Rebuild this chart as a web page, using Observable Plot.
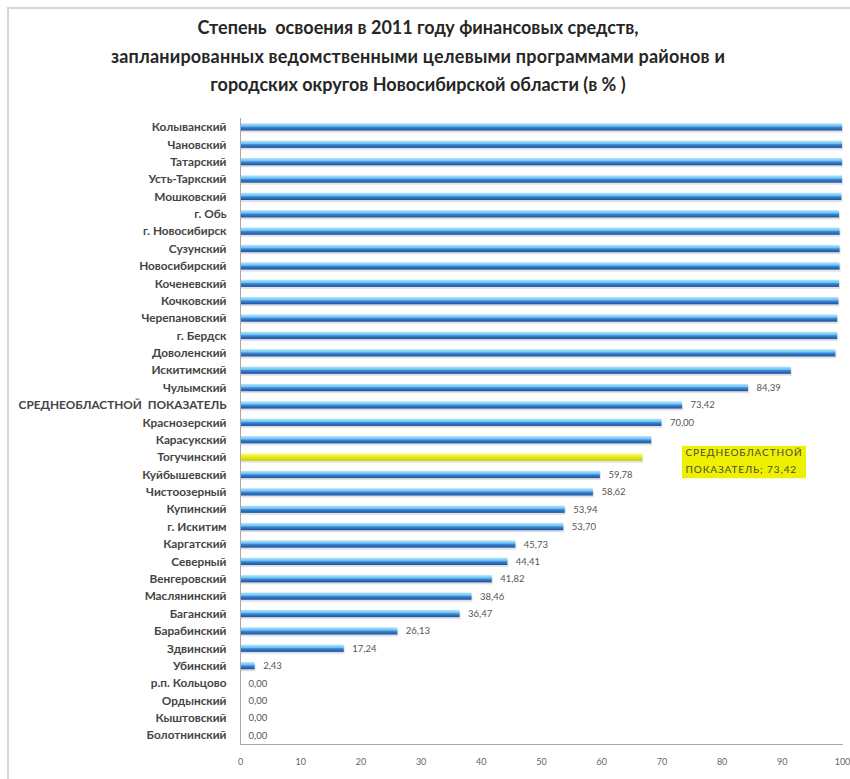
<!DOCTYPE html>
<html><head><meta charset="utf-8">
<script src="https://cdn.jsdelivr.net/npm/d3@7"></script>
<script src="https://cdn.jsdelivr.net/npm/@observablehq/plot@0.6"></script>
<style>
body{margin:0;background:#fff;width:850px;height:779px;overflow:hidden;position:relative;font-family:Lato,sans-serif}
#frame{position:absolute;left:7px;top:7px;width:900px;height:800px;border-top:2px solid #d6d6d6;border-left:2px solid #d6d6d6}
#title{position:absolute;left:8px;width:820px;top:13px;text-align:center;font-weight:bold;font-size:18px;line-height:28.5px;color:#262626;white-space:pre}
#chart{position:absolute;left:0;top:100px}
</style></head>
<body>
<div id="frame"></div>
<div id="title">Степень  освоения в 2011 году финансовых средств,
<span style="letter-spacing:0.2px">запланированных ведомственными целевыми программами районов и</span>
городских округов Новосибирской области (в % )</div>
<div id="chart"></div>
<script>
const categories = ["Колыванский","Чановский","Татарский","Усть-Таркский","Мошковский","г. Обь","г. Новосибирск","Сузунский","Новосибирский","Коченевский","Кочковский","Черепановский","г. Бердск","Доволенский","Искитимский","Чулымский","СРЕДНЕОБЛАСТНОЙ  ПОКАЗАТЕЛЬ","Краснозерский","Карасукский","Тогучинский","Куйбышевский","Чистоозерный","Купинский","г. Искитим","Каргатский","Северный","Венгеровский","Маслянинский","Баганский","Барабинский","Здвинский","Убинский","р.п. Кольцово","Ордынский","Кыштовский","Болотнинский"];
const values = [100,100,100,100,99.9,99.5,99.6,99.6,99.6,99.5,99.4,99.2,99.2,98.9,91.5,84.39,73.42,70.00,68.3,66.8,59.78,58.62,53.94,53.70,45.73,44.41,41.82,38.46,36.47,26.13,17.24,2.43,0,0,0,0];
const labelled = ["Чулымский","СРЕДНЕОБЛАСТНОЙ  ПОКАЗАТЕЛЬ","Краснозерский","Куйбышевский","Чистоозерный","Купинский","г. Искитим","Каргатский","Северный","Венгеровский","Маслянинский","Баганский","Барабинский","Здвинский","Убинский","р.п. Кольцово","Ордынский","Кыштовский","Болотнинский"];
const highlighted = ["Тогучинский"];
const xTicks = [0,10,20,30,40,50,60,70,80,90,100];
const averageName = "СРЕДНЕОБЛАСТНОЙ  ПОКАЗАТЕЛЬ";
const calloutLines = ["СРЕДНЕОБЛАСТНОЙ", "ПОКАЗАТЕЛЬ; 73,42"];

const data = categories.map((name, i) => ({name, value: values[i], labelled: labelled.includes(name), hi: highlighted.includes(name)}));
const avg = data.find(d => d.name === averageName).value;
const fmt = v => v.toFixed(2).replace(".", ",");

const chart = Plot.plot({
  width: 850,
  height: 679,
  marginLeft: 240,
  marginRight: 8,
  marginTop: 18,
  marginBottom: 35,
  style: {fontFamily: "Lato, sans-serif", background: "transparent"},
  x: {domain: [0, 100], ticks: xTicks, tickSize: 0, tickPadding: 14, tickFormat: d => d, label: null},
  y: {domain: categories, paddingInner: 0.58, paddingOuter: 0.3, round: false, tickSize: 0, tickPadding: 14, label: null},
  marks: [
    Plot.barX(data, {x: "value", y: "name", fill: "#bdbdbd", fillOpacity: 0.45, dy: 2, dx: 1}),
    Plot.barX(data, {filter: d => !d.hi, x: "value", y: "name", fill: "url(#blueGrad)"}),
    Plot.barX(data, {filter: d => d.hi, x: "value", y: "name", fill: "url(#yellowGrad)"}),
    Plot.text(data, {filter: d => d.labelled, x: "value", y: "name", text: d => fmt(d.value), textAnchor: "start", dx: 8, fill: "#555", fontSize: 9.5}),
    Plot.frame({anchor: "left", stroke: "#a8a8a8"}),
    Plot.frame({anchor: "bottom", stroke: "#a8a8a8"}),
    Plot.barX([avg], {x1: d => d, x2: d => d, y: () => "Тогучинский", fill: "#eef000", insetTop: -7.5, insetBottom: -17.5, insetRight: -124}),
    Plot.text([avg], {x: d => d, y: () => "Тогучинский", text: () => calloutLines[0], textAnchor: "start", dx: 3, dy: -5, fontSize: 10, fill: "#4a4a4a"}),
    Plot.text([avg], {x: d => d, y: () => "Тогучинский", text: () => calloutLines[1], textAnchor: "start", dx: 3, dy: 12, fontSize: 10, fill: "#4a4a4a"})
  ]
});

const defs = d3.select(chart).insert("defs", ":first-child");
const bg = defs.append("linearGradient").attr("id", "blueGrad").attr("x1", 0).attr("y1", 0).attr("x2", 0).attr("y2", 1);
[["0%","#b8e6fb"],["40%","#6cc3f1"],["55%","#3b86d6"],["100%","#1c4f9e"]].forEach(([o,c]) => bg.append("stop").attr("offset", o).attr("stop-color", c));
const yg = defs.append("linearGradient").attr("id", "yellowGrad").attr("x1", 0).attr("y1", 0).attr("x2", 0).attr("y2", 1);
[["0%","#f6f98a"],["45%","#e8ef1a"],["100%","#c4cc00"]].forEach(([o,c]) => yg.append("stop").attr("offset", o).attr("stop-color", c));

d3.select(chart).selectAll("[aria-label='y-axis tick label']").style("font-size", "11.8px").style("font-weight", "bold").style("fill", "#444");
d3.select(chart).selectAll("[aria-label='x-axis tick label']").style("font-size", "9px").style("fill", "#666");
d3.select(chart).selectAll("text").filter(function() { return calloutLines.includes(this.textContent); }).style("letter-spacing", "0.9px");

document.getElementById("chart").appendChild(chart);
</script>
</body></html>
